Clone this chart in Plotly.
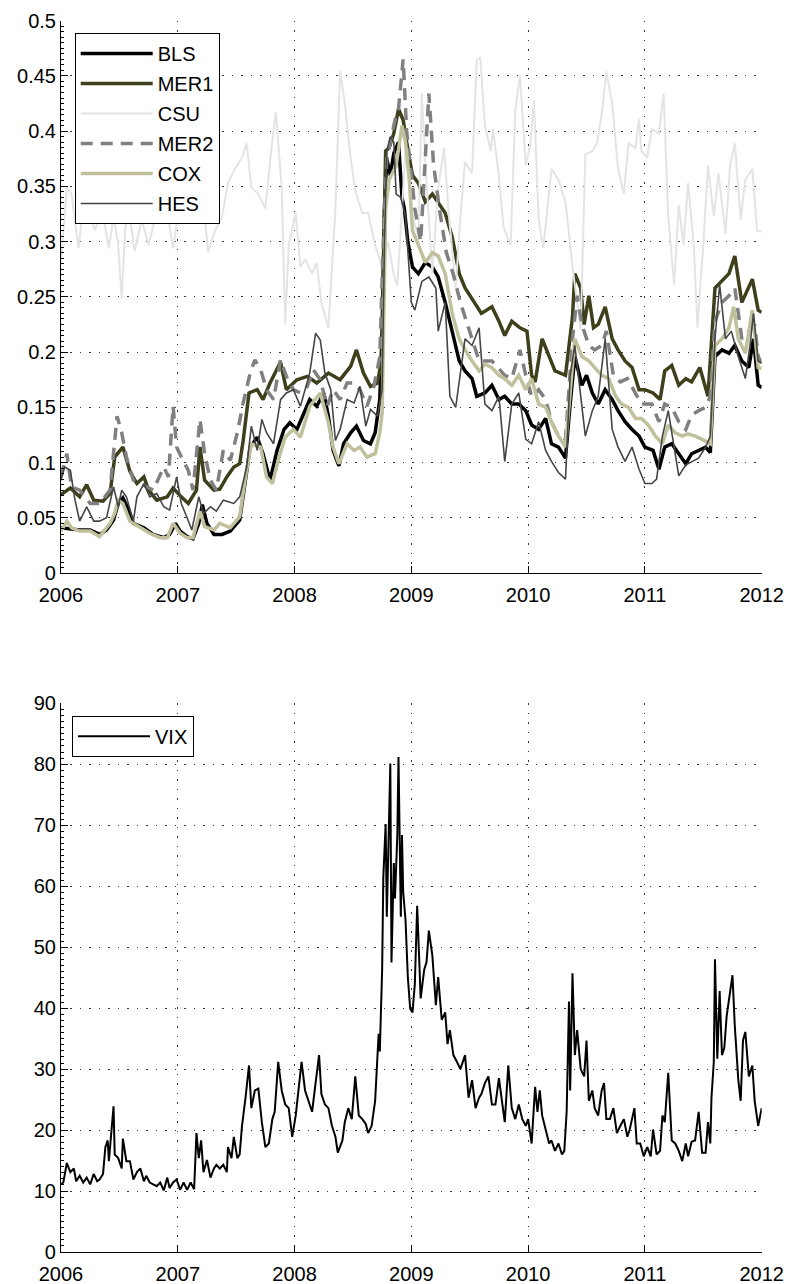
import plotly.graph_objects as go

# ---------------- data (decimal years) ----------------
bls_t = [2006.00, 2006.08, 2006.16, 2006.25, 2006.33, 2006.39, 2006.45, 2006.49, 2006.53, 2006.58,
         2006.62, 2006.71, 2006.79, 2006.88, 2006.93, 2006.98, 2007.02, 2007.08, 2007.13, 2007.18,
         2007.21, 2007.25, 2007.31, 2007.38, 2007.45, 2007.53, 2007.58, 2007.62, 2007.68, 2007.73,
         2007.79, 2007.85, 2007.91, 2007.96, 2008.02, 2008.08, 2008.13, 2008.19, 2008.25, 2008.29,
         2008.33, 2008.38, 2008.42, 2008.48, 2008.53, 2008.59, 2008.65, 2008.69, 2008.73, 2008.75,
         2008.77, 2008.79, 2008.82, 2008.85, 2008.89, 2008.92, 2008.94, 2008.97, 2009.01, 2009.06,
         2009.12, 2009.18, 2009.23, 2009.29, 2009.35, 2009.41, 2009.46, 2009.52, 2009.56, 2009.63,
         2009.69, 2009.75, 2009.80, 2009.86, 2009.92, 2009.98, 2010.03, 2010.09, 2010.15, 2010.20,
         2010.26, 2010.32, 2010.36, 2010.40, 2010.46, 2010.50, 2010.55, 2010.60, 2010.66, 2010.72,
         2010.77, 2010.83, 2010.89, 2010.95, 2011.00, 2011.07, 2011.12, 2011.17, 2011.23, 2011.29,
         2011.35, 2011.40, 2011.46, 2011.52, 2011.56, 2011.60, 2011.66, 2011.72, 2011.77, 2011.83,
         2011.89, 2011.93, 2011.97, 2012.00]
bls_v = [0.041, 0.040, 0.039, 0.039, 0.035, 0.039, 0.048, 0.063, 0.068, 0.057,
         0.045, 0.041, 0.035, 0.032, 0.035, 0.045, 0.038, 0.033, 0.031, 0.045,
         0.062, 0.045, 0.035, 0.035, 0.038, 0.048, 0.087, 0.114, 0.123, 0.108,
         0.084, 0.111, 0.130, 0.136, 0.130, 0.145, 0.157, 0.151, 0.163, 0.142,
         0.111, 0.097, 0.117, 0.127, 0.133, 0.120, 0.117, 0.127, 0.157, 0.220,
         0.330, 0.375, 0.360, 0.380, 0.390, 0.340, 0.330, 0.300, 0.277, 0.271,
         0.281, 0.277, 0.268, 0.245, 0.219, 0.192, 0.183, 0.176, 0.160, 0.163,
         0.170, 0.157, 0.160, 0.153, 0.153, 0.147, 0.134, 0.130, 0.140, 0.117,
         0.114, 0.104, 0.153, 0.196, 0.170, 0.179, 0.163, 0.153, 0.166, 0.157,
         0.147, 0.137, 0.130, 0.124, 0.114, 0.111, 0.094, 0.114, 0.117, 0.108,
         0.099, 0.108, 0.111, 0.114, 0.109, 0.196, 0.202, 0.199, 0.206, 0.192,
         0.186, 0.212, 0.170, 0.168]

mer1_t = [2006.00, 2006.08, 2006.16, 2006.22, 2006.28, 2006.36, 2006.42, 2006.46, 2006.53, 2006.59,
          2006.65, 2006.71, 2006.75, 2006.82, 2006.91, 2006.96, 2007.03, 2007.09, 2007.16, 2007.19,
          2007.23, 2007.31, 2007.36, 2007.42, 2007.48, 2007.53, 2007.56, 2007.61, 2007.68, 2007.73,
          2007.79, 2007.88, 2007.93, 2008.02, 2008.11, 2008.19, 2008.29, 2008.39, 2008.48, 2008.53,
          2008.59, 2008.65, 2008.71, 2008.75, 2008.765, 2008.78, 2008.81, 2008.85, 2008.89, 2008.93,
          2008.96, 2009.01, 2009.06, 2009.12, 2009.18, 2009.29, 2009.35, 2009.41, 2009.46, 2009.52,
          2009.56, 2009.60, 2009.69, 2009.75, 2009.80, 2009.86, 2009.93, 2009.99, 2010.03, 2010.06,
          2010.12, 2010.18, 2010.23, 2010.32, 2010.38, 2010.40, 2010.45, 2010.48, 2010.52, 2010.56,
          2010.60, 2010.66, 2010.72, 2010.77, 2010.83, 2010.89, 2010.95, 2011.00, 2011.07, 2011.13,
          2011.17, 2011.23, 2011.29, 2011.35, 2011.40, 2011.47, 2011.54, 2011.60, 2011.66, 2011.72,
          2011.77, 2011.83, 2011.92, 2011.97, 2012.00]
mer1_v = [0.071, 0.077, 0.069, 0.080, 0.066, 0.065, 0.072, 0.105, 0.114, 0.092,
          0.081, 0.087, 0.075, 0.066, 0.069, 0.077, 0.069, 0.063, 0.075, 0.114,
          0.084, 0.075, 0.076, 0.087, 0.096, 0.099, 0.120, 0.163, 0.166, 0.157,
          0.172, 0.191, 0.166, 0.175, 0.178, 0.172, 0.181, 0.175, 0.187, 0.202,
          0.181, 0.169, 0.172, 0.196, 0.300, 0.382, 0.385, 0.398, 0.420, 0.410,
          0.390, 0.360, 0.353, 0.336, 0.343, 0.326, 0.304, 0.271, 0.258, 0.248,
          0.241, 0.235, 0.241, 0.228, 0.215, 0.228, 0.222, 0.219, 0.179, 0.173,
          0.212, 0.196, 0.183, 0.179, 0.232, 0.271, 0.258, 0.225, 0.251, 0.222,
          0.225, 0.241, 0.212, 0.202, 0.192, 0.186, 0.166, 0.166, 0.163, 0.157,
          0.183, 0.188, 0.170, 0.176, 0.173, 0.186, 0.160, 0.258, 0.264, 0.271,
          0.287, 0.245, 0.266, 0.238, 0.236]

csu_t = [2006.00, 2006.02, 2006.05, 2006.09, 2006.15, 2006.18, 2006.23, 2006.29, 2006.35, 2006.41,
         2006.45, 2006.49, 2006.52, 2006.55, 2006.59, 2006.63, 2006.69, 2006.75, 2006.81, 2006.86,
         2006.92, 2006.96, 2007.01, 2007.05, 2007.09, 2007.15, 2007.21, 2007.26, 2007.32, 2007.38,
         2007.43, 2007.49, 2007.55, 2007.59, 2007.63, 2007.69, 2007.75, 2007.81, 2007.84, 2007.89,
         2007.92, 2007.95, 2008.01, 2008.05, 2008.09, 2008.15, 2008.19, 2008.23, 2008.29, 2008.35,
         2008.39, 2008.43, 2008.48, 2008.52, 2008.58, 2008.63, 2008.69, 2008.75, 2008.80, 2008.85,
         2008.88, 2008.92, 2008.95, 2009.01, 2009.06, 2009.09, 2009.13, 2009.18, 2009.23, 2009.28,
         2009.32, 2009.38, 2009.42, 2009.46, 2009.52, 2009.56, 2009.59, 2009.63, 2009.68, 2009.70,
         2009.75, 2009.79, 2009.85, 2009.89, 2009.93, 2009.98, 2010.02, 2010.05, 2010.09, 2010.13,
         2010.20, 2010.26, 2010.32, 2010.35, 2010.38, 2010.42, 2010.45, 2010.49, 2010.55, 2010.59,
         2010.63, 2010.67, 2010.72, 2010.77, 2010.82, 2010.86, 2010.92, 2010.95, 2010.97, 2011.02,
         2011.06, 2011.12, 2011.16, 2011.20, 2011.25, 2011.29, 2011.33, 2011.37, 2011.42, 2011.45,
         2011.50, 2011.54, 2011.59, 2011.63, 2011.69, 2011.73, 2011.77, 2011.82, 2011.86, 2011.92,
         2011.96, 2012.00]
csu_v = [0.281, 0.310, 0.349, 0.343, 0.294, 0.323, 0.330, 0.310, 0.330, 0.294,
         0.323, 0.297, 0.248, 0.313, 0.323, 0.291, 0.320, 0.297, 0.323, 0.323,
         0.320, 0.294, 0.330, 0.353, 0.362, 0.330, 0.343, 0.291, 0.310, 0.323,
         0.353, 0.366, 0.376, 0.389, 0.349, 0.343, 0.330, 0.392, 0.417, 0.349,
         0.225, 0.297, 0.326, 0.277, 0.284, 0.271, 0.281, 0.245, 0.222, 0.330,
         0.455, 0.425, 0.376, 0.346, 0.326, 0.326, 0.297, 0.277, 0.300, 0.270,
         0.260, 0.330, 0.382, 0.323, 0.304, 0.434, 0.353, 0.271, 0.349, 0.385,
         0.326, 0.258, 0.323, 0.372, 0.362, 0.464, 0.467, 0.405, 0.382, 0.402,
         0.359, 0.313, 0.297, 0.418, 0.451, 0.369, 0.389, 0.428, 0.320, 0.294,
         0.366, 0.356, 0.336, 0.307, 0.277, 0.245, 0.220, 0.379, 0.382, 0.389,
         0.415, 0.454, 0.425, 0.366, 0.343, 0.389, 0.385, 0.411, 0.382, 0.376,
         0.402, 0.398, 0.434, 0.323, 0.261, 0.333, 0.297, 0.353, 0.294, 0.222,
         0.297, 0.369, 0.323, 0.362, 0.307, 0.369, 0.389, 0.320, 0.356, 0.366,
         0.310, 0.309]

mer2_t = [2006.00, 2006.05, 2006.09, 2006.16, 2006.25, 2006.33, 2006.42, 2006.48, 2006.52, 2006.56,
          2006.62, 2006.68, 2006.73, 2006.79, 2006.88, 2006.92, 2006.96, 2006.99, 2007.03, 2007.09,
          2007.13, 2007.19, 2007.23, 2007.28, 2007.33, 2007.39, 2007.45, 2007.51, 2007.56, 2007.62,
          2007.66, 2007.71, 2007.76, 2007.82, 2007.88, 2007.93, 2007.99, 2008.05, 2008.11, 2008.16,
          2008.22, 2008.28, 2008.33, 2008.39, 2008.45, 2008.51, 2008.56, 2008.62, 2008.68, 2008.73,
          2008.76, 2008.79, 2008.86, 2008.89, 2008.93, 2008.96, 2008.99, 2009.03, 2009.08, 2009.12,
          2009.15, 2009.19, 2009.24, 2009.30, 2009.36, 2009.42, 2009.52, 2009.58, 2009.69, 2009.80,
          2009.86, 2009.93, 2009.98, 2010.03, 2010.09, 2010.15, 2010.20, 2010.26, 2010.32, 2010.38,
          2010.42, 2010.46, 2010.52, 2010.57, 2010.63, 2010.67, 2010.73, 2010.79, 2010.85, 2010.92,
          2010.97, 2011.06, 2011.12, 2011.17, 2011.23, 2011.29, 2011.35, 2011.40, 2011.46, 2011.52,
          2011.56, 2011.60, 2011.66, 2011.72, 2011.77, 2011.83, 2011.89, 2011.94, 2011.97, 2012.00]
mer2_v = [0.087, 0.108, 0.078, 0.075, 0.063, 0.063, 0.075, 0.142, 0.127, 0.105,
          0.084, 0.081, 0.078, 0.075, 0.096, 0.087, 0.151, 0.114, 0.105, 0.093,
          0.075, 0.139, 0.108, 0.084, 0.075, 0.111, 0.102, 0.127, 0.154, 0.181,
          0.193, 0.184, 0.166, 0.157, 0.193, 0.178, 0.166, 0.163, 0.169, 0.184,
          0.175, 0.151, 0.166, 0.157, 0.172, 0.172, 0.166, 0.151, 0.169, 0.196,
          0.300, 0.375, 0.410, 0.420, 0.465, 0.400, 0.370, 0.330, 0.300, 0.380,
          0.434, 0.370, 0.330, 0.290, 0.270, 0.245, 0.212, 0.192, 0.192, 0.179,
          0.176, 0.202, 0.179, 0.160, 0.166, 0.157, 0.137, 0.124, 0.121, 0.212,
          0.251, 0.225, 0.206, 0.202, 0.206, 0.219, 0.179, 0.173, 0.176, 0.163,
          0.153, 0.153, 0.137, 0.153, 0.150, 0.137, 0.130, 0.143, 0.147, 0.150,
          0.160, 0.228, 0.245, 0.251, 0.258, 0.212, 0.219, 0.225, 0.196, 0.190]

cox_t = [2006.00, 2006.05, 2006.09, 2006.16, 2006.25, 2006.33, 2006.42, 2006.46, 2006.49, 2006.53,
         2006.59, 2006.68, 2006.76, 2006.85, 2006.91, 2006.96, 2007.02, 2007.08, 2007.13, 2007.19,
         2007.23, 2007.31, 2007.36, 2007.45, 2007.53, 2007.58, 2007.63, 2007.71, 2007.76, 2007.81,
         2007.86, 2007.92, 2007.99, 2008.05, 2008.13, 2008.22, 2008.29, 2008.33, 2008.38, 2008.45,
         2008.51, 2008.56, 2008.62, 2008.69, 2008.73, 2008.75, 2008.78, 2008.81, 2008.87, 2008.92,
         2008.95, 2008.98, 2009.01, 2009.06, 2009.12, 2009.18, 2009.23, 2009.29, 2009.35, 2009.41,
         2009.46, 2009.52, 2009.58, 2009.63, 2009.69, 2009.75, 2009.80, 2009.86, 2009.92, 2009.98,
         2010.03, 2010.09, 2010.15, 2010.20, 2010.26, 2010.32, 2010.36, 2010.40, 2010.46, 2010.52,
         2010.57, 2010.63, 2010.69, 2010.75, 2010.80, 2010.86, 2010.92, 2010.97, 2011.03, 2011.09,
         2011.15, 2011.20, 2011.26, 2011.32, 2011.37, 2011.43, 2011.49, 2011.56, 2011.60, 2011.66,
         2011.72, 2011.76, 2011.80, 2011.86, 2011.92, 2011.97, 2012.00]
cox_v = [0.038, 0.047, 0.041, 0.038, 0.038, 0.033, 0.045, 0.054, 0.066, 0.063,
         0.047, 0.041, 0.036, 0.032, 0.032, 0.045, 0.036, 0.032, 0.032, 0.056,
         0.042, 0.039, 0.045, 0.041, 0.051, 0.087, 0.117, 0.114, 0.087, 0.081,
         0.102, 0.123, 0.130, 0.123, 0.151, 0.163, 0.136, 0.114, 0.099, 0.117,
         0.111, 0.114, 0.105, 0.108, 0.127, 0.145, 0.330, 0.356, 0.369, 0.405,
         0.390, 0.360, 0.310, 0.297, 0.281, 0.290, 0.287, 0.271, 0.235, 0.212,
         0.202, 0.192, 0.183, 0.189, 0.186, 0.179, 0.176, 0.170, 0.179, 0.166,
         0.176, 0.153, 0.150, 0.137, 0.124, 0.114, 0.163, 0.212, 0.196, 0.192,
         0.186, 0.179, 0.176, 0.160, 0.153, 0.150, 0.140, 0.140, 0.134, 0.124,
         0.117, 0.134, 0.127, 0.124, 0.126, 0.124, 0.121, 0.117, 0.206, 0.212,
         0.222, 0.241, 0.212, 0.199, 0.238, 0.186, 0.185]

hes_t = [2006.00, 2006.03, 2006.08, 2006.12, 2006.16, 2006.22, 2006.28, 2006.33, 2006.39, 2006.45,
         2006.49, 2006.52, 2006.56, 2006.62, 2006.65, 2006.71, 2006.76, 2006.82, 2006.88, 2006.93,
         2006.99, 2007.03, 2007.08, 2007.12, 2007.18, 2007.22, 2007.28, 2007.33, 2007.39, 2007.48,
         2007.53, 2007.59, 2007.63, 2007.68, 2007.72, 2007.76, 2007.82, 2007.88, 2007.93, 2007.99,
         2008.05, 2008.09, 2008.13, 2008.18, 2008.22, 2008.26, 2008.31, 2008.35, 2008.39, 2008.45,
         2008.51, 2008.56, 2008.61, 2008.65, 2008.71, 2008.75, 2008.77, 2008.79, 2008.82, 2008.85,
         2008.87, 2008.91, 2008.95, 2009.00, 2009.03, 2009.09, 2009.15, 2009.21, 2009.23, 2009.29,
         2009.33, 2009.38, 2009.42, 2009.46, 2009.52, 2009.58, 2009.63, 2009.69, 2009.75, 2009.80,
         2009.86, 2009.92, 2009.98, 2010.03, 2010.09, 2010.15, 2010.20, 2010.26, 2010.32, 2010.36,
         2010.40, 2010.45, 2010.49, 2010.55, 2010.60, 2010.66, 2010.72, 2010.77, 2010.83, 2010.89,
         2010.95, 2011.00, 2011.06, 2011.10, 2011.15, 2011.20, 2011.26, 2011.29, 2011.35, 2011.40,
         2011.46, 2011.52, 2011.56, 2011.60, 2011.64, 2011.69, 2011.74, 2011.80, 2011.86, 2011.90,
         2011.93, 2011.97, 2012.00]
hes_v = [0.084, 0.096, 0.093, 0.066, 0.047, 0.060, 0.047, 0.047, 0.050, 0.078,
         0.060, 0.075, 0.069, 0.047, 0.069, 0.081, 0.069, 0.072, 0.060, 0.057,
         0.087, 0.063, 0.050, 0.039, 0.069, 0.054, 0.060, 0.056, 0.066, 0.063,
         0.069, 0.096, 0.133, 0.111, 0.139, 0.127, 0.117, 0.157, 0.163, 0.166,
         0.151, 0.166, 0.181, 0.217, 0.211, 0.181, 0.166, 0.120, 0.130, 0.157,
         0.154, 0.169, 0.133, 0.148, 0.142, 0.166, 0.300, 0.382, 0.395, 0.390,
         0.343, 0.340, 0.323, 0.245, 0.238, 0.264, 0.268, 0.258, 0.219, 0.245,
         0.160, 0.150, 0.179, 0.212, 0.206, 0.222, 0.153, 0.147, 0.160, 0.101,
         0.153, 0.163, 0.121, 0.117, 0.137, 0.111, 0.101, 0.091, 0.085, 0.179,
         0.206, 0.163, 0.124, 0.147, 0.160, 0.212, 0.130, 0.114, 0.101, 0.114,
         0.094, 0.081, 0.081, 0.085, 0.124, 0.147, 0.108, 0.088, 0.098, 0.101,
         0.104, 0.114, 0.124, 0.212, 0.261, 0.212, 0.219, 0.196, 0.176, 0.206,
         0.235, 0.192, 0.190]

vix_t = [2006.00, 2006.02, 2006.05, 2006.08, 2006.11, 2006.13, 2006.16, 2006.19, 2006.22, 2006.25,
         2006.28, 2006.31, 2006.33, 2006.36, 2006.38, 2006.40, 2006.41, 2006.43, 2006.45, 2006.46,
         2006.49, 2006.52, 2006.53, 2006.56, 2006.59, 2006.62, 2006.65, 2006.68, 2006.71, 2006.73,
         2006.76, 2006.79, 2006.82, 2006.85, 2006.88, 2006.91, 2006.93, 2006.96, 2006.99, 2007.02,
         2007.05, 2007.08, 2007.11, 2007.14, 2007.16, 2007.18, 2007.20, 2007.22, 2007.25, 2007.28,
         2007.31, 2007.33, 2007.36, 2007.39, 2007.42, 2007.43, 2007.46, 2007.48, 2007.51, 2007.53,
         2007.55, 2007.58, 2007.61, 2007.63, 2007.66, 2007.69, 2007.72, 2007.75, 2007.78, 2007.81,
         2007.83, 2007.86, 2007.89, 2007.92, 2007.95, 2007.98, 2008.01, 2008.03, 2008.06, 2008.09,
         2008.12, 2008.15, 2008.18, 2008.21, 2008.23, 2008.26, 2008.29, 2008.32, 2008.35, 2008.37,
         2008.41, 2008.43, 2008.46, 2008.49, 2008.52, 2008.55, 2008.58, 2008.61, 2008.63, 2008.66,
         2008.69, 2008.71, 2008.72, 2008.73, 2008.75, 2008.76, 2008.78, 2008.79, 2008.81, 2008.82,
         2008.83, 2008.85, 2008.86, 2008.88, 2008.89, 2008.91, 2008.92, 2008.93, 2008.95, 2008.97,
         2008.99, 2009.01, 2009.03, 2009.05, 2009.08, 2009.11, 2009.13, 2009.15, 2009.18, 2009.21,
         2009.23, 2009.26, 2009.29, 2009.31, 2009.33, 2009.36, 2009.39, 2009.42, 2009.46, 2009.49,
         2009.52, 2009.55, 2009.58, 2009.60, 2009.63, 2009.66, 2009.69, 2009.72, 2009.75, 2009.78,
         2009.80, 2009.83, 2009.86, 2009.89, 2009.92, 2009.95, 2009.98, 2010.00, 2010.03, 2010.06,
         2010.08, 2010.10, 2010.12, 2010.15, 2010.18, 2010.20, 2010.23, 2010.26, 2010.29, 2010.31,
         2010.33, 2010.35, 2010.36, 2010.38, 2010.40, 2010.42, 2010.45, 2010.48, 2010.50, 2010.52,
         2010.55, 2010.57, 2010.60, 2010.63, 2010.65, 2010.67, 2010.70, 2010.73, 2010.76, 2010.79,
         2010.82, 2010.85, 2010.87, 2010.91, 2010.93, 2010.96, 2010.99, 2011.02, 2011.05, 2011.07,
         2011.10, 2011.13, 2011.15, 2011.17, 2011.20, 2011.23, 2011.26, 2011.29, 2011.32, 2011.35,
         2011.37, 2011.40, 2011.43, 2011.46, 2011.49, 2011.52, 2011.54, 2011.56, 2011.57, 2011.59,
         2011.60, 2011.62, 2011.64, 2011.66, 2011.68, 2011.70, 2011.72, 2011.75, 2011.77, 2011.80,
         2011.82, 2011.84, 2011.86, 2011.89, 2011.92, 2011.94, 2011.97, 2012.00]
vix_v = [11.1, 11.4, 14.6, 13.1, 13.7, 11.6, 12.5, 11.4, 12.2, 11.1,
         12.8, 11.6, 11.9, 12.8, 17.2, 18.3, 14.9, 18.9, 23.9, 16.0,
         15.4, 13.7, 18.6, 14.9, 14.9, 11.9, 13.1, 13.7, 11.6, 12.5,
         11.4, 11.1, 10.8, 11.4, 10.1, 12.2, 10.5, 11.4, 11.9, 10.2,
         11.4, 10.2, 11.4, 10.3, 19.5, 15.4, 18.3, 13.1, 15.1, 12.2,
         13.7, 14.3, 13.7, 14.3, 13.1, 17.2, 15.4, 18.9, 15.4, 16.0,
         20.7, 25.3, 30.6, 23.6, 26.5, 26.8, 21.3, 17.2, 17.8, 21.8,
         23.0, 31.2, 26.5, 24.2, 23.6, 18.9, 22.4, 25.9, 31.2, 26.5,
         24.8, 23.0, 27.7, 32.3, 25.9, 24.2, 23.6, 20.7, 18.9, 16.3,
         18.3, 21.3, 23.6, 21.8, 28.8, 22.4, 21.8, 21.0, 19.5, 20.7,
         24.8, 31.7, 35.8, 32.9, 46.3, 61.4, 70.2, 55.0, 70.2, 80.1,
         47.5, 63.8, 58.0, 68.4, 81.2, 55.0, 68.4, 59.1, 54.5, 45.1,
         39.9, 39.3, 44.0, 56.8, 41.6, 46.3, 47.5, 52.7, 48.6, 40.5,
         45.1, 38.1, 39.3, 34.1, 36.4, 32.3, 31.2, 30.0, 32.3, 25.3,
         28.2, 23.6, 25.3, 25.9, 27.7, 28.8, 24.2, 24.2, 28.5, 23.6,
         21.3, 30.6, 23.6, 21.8, 24.2, 21.8, 20.7, 21.8, 17.8, 27.1,
         23.0, 26.5, 22.4, 20.1, 17.8, 18.3, 16.6, 17.8, 16.0, 16.6,
         23.0, 41.1, 26.5, 45.7, 32.3, 36.4, 30.0, 28.8, 34.7, 24.8,
         26.5, 23.6, 22.4, 26.5, 27.7, 21.8, 21.8, 23.6, 19.5, 20.7,
         21.8, 18.9, 20.1, 23.6, 17.8, 17.8, 15.7, 17.2, 15.7, 20.1,
         16.0, 16.6, 22.4, 21.3, 29.4, 18.3, 17.8, 16.6, 14.9, 17.8,
         15.7, 18.1, 18.3, 23.0, 16.3, 16.3, 21.3, 17.8, 25.3, 31.2,
         48.0, 31.7, 42.8, 32.3, 33.5, 38.7, 41.6, 45.4, 37.0, 28.2,
         24.8, 34.7, 36.1, 28.8, 30.6, 24.8, 20.7, 23.6]

years = [2006, 2007, 2008, 2009, 2010, 2011, 2012]
top_ticks = [0, 0.05, 0.1, 0.15, 0.2, 0.25, 0.3, 0.35, 0.4, 0.45, 0.5]
top_labels = ["0", "0.05", "0.1", "0.15", "0.2", "0.25", "0.3", "0.35", "0.4", "0.45", "0.5"]
bot_ticks = [0, 10, 20, 30, 40, 50, 60, 70, 80, 90]

# ---------------- figure ----------------
FONT = "Liberation Sans, Arial, Helvetica, sans-serif"
fig = go.Figure()

series = [
    ("BLS", bls_t, bls_v, "#000000", 3.5, "solid"),
    ("MER1", mer1_t, mer1_v, "#3f3f1c", 3.5, "solid"),
    ("CSU", csu_t, csu_v, "#e4e4e4", 2.0, "solid"),
    ("MER2", mer2_t, mer2_v, "#808080", 3.5, "12px,8px"),
    ("COX", cox_t, cox_v, "#c0c09c", 3.5, "solid"),
    ("HES", hes_t, hes_v, "#454545", 1.6, "solid"),
]
for i, (name, t, v, col, w, dash) in enumerate(series):
    fig.add_trace(go.Scatter(x=t, y=v, mode="lines", name=name,
                             line=dict(color=col, width=w, dash=dash),
                             legendgroup=f"g{i}", xaxis="x", yaxis="y", legend="legend"))

fig.add_trace(go.Scatter(x=vix_t, y=vix_v, mode="lines", name="VIX",
                         line=dict(color="#000000", width=2),
                         xaxis="x2", yaxis="y2", legend="legend2"))

grid = dict(showgrid=True, gridcolor="#333333", gridwidth=1, griddash="1.5px,8px")
tfont = dict(family=FONT, size=20, color="black")
common_x = dict(range=[2006, 2012], tickvals=years, ticktext=[str(y) for y in years],
                ticks="inside", ticklen=7, tickcolor="black", showline=True, linecolor="black",
                linewidth=1, zeroline=False, domain=[0.0774, 0.9666], automargin=False,
                ticklabelstandoff=4, tickfont=tfont, **grid)
common_y = dict(ticks="inside", ticklen=7, tickcolor="black", showline=True, linecolor="black",
                linewidth=1, zeroline=False, automargin=False, tickfont=tfont, **grid)

fig.update_layout(
    width=788, height=1284,
    margin=dict(l=0, r=0, t=0, b=0, autoexpand=False),
    paper_bgcolor="white", plot_bgcolor="white",
    font=dict(family=FONT, size=20, color="black"),
    showlegend=True,
    xaxis=dict(anchor="y", **common_x),
    yaxis=dict(anchor="x", domain=[0.5537, 0.9839], range=[0, 0.5],
               tickvals=top_ticks, ticktext=top_labels,
               minor=dict(ticks="inside", ticklen=3, dtick=0.005, tickcolor="black", showgrid=False),
               **common_y),
    xaxis2=dict(anchor="y2", **common_x),
    yaxis2=dict(anchor="x2", domain=[0.0249, 0.4523], range=[0, 90],
                tickvals=bot_ticks,
                minor=dict(ticks="inside", ticklen=3, dtick=1, tickcolor="black", showgrid=False),
                **common_y),
    legend=dict(x=0.0948, y=0.9743, xanchor="left", yanchor="top",
                bgcolor="white", bordercolor="black", borderwidth=1,
                font=tfont, traceorder="grouped", tracegroupgap=1, itemwidth=72),
    legend2=dict(x=0.0914, y=0.4426, xanchor="left", yanchor="top",
                 bgcolor="white", bordercolor="black", borderwidth=1,
                 font=tfont, itemwidth=72),
)

fig.write_html("out.html", config={"displayModeBar": False},
               post_script="document.body.style.margin='0px';document.body.style.overflow='hidden';")
